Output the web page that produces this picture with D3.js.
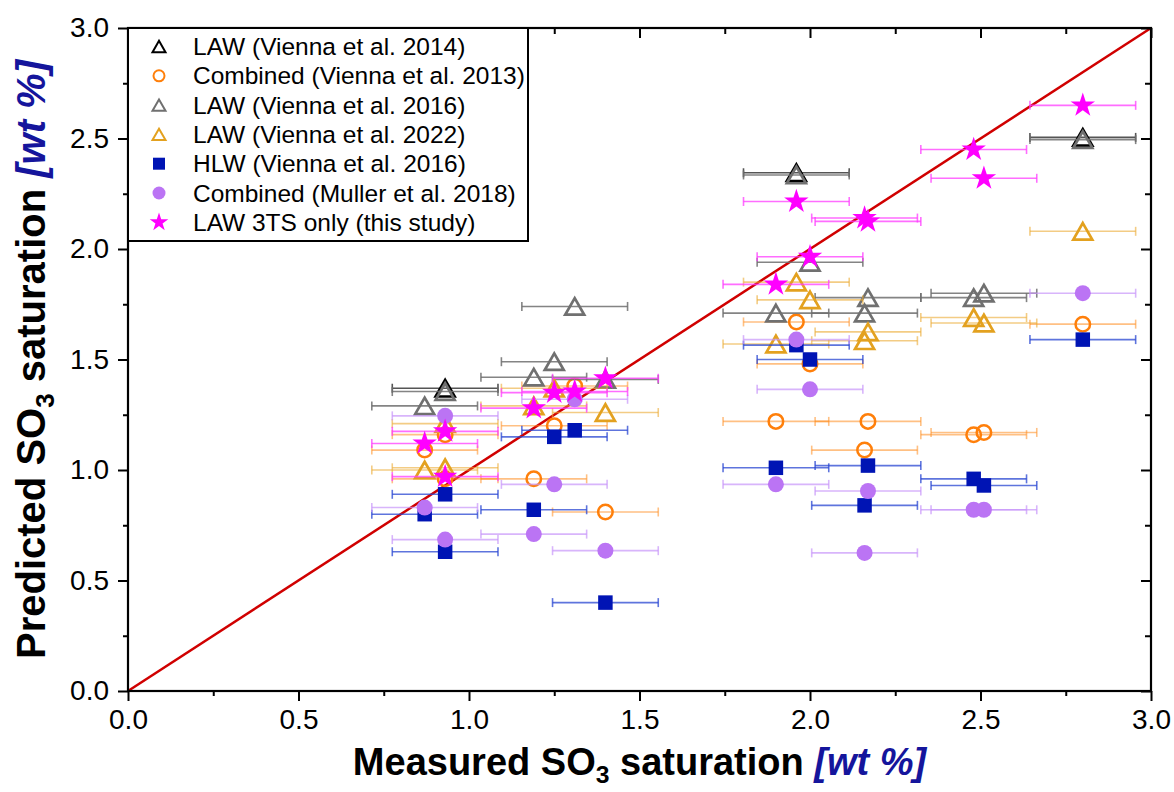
<!DOCTYPE html>
<html>
<head>
<meta charset="utf-8">
<script src="https://cdn.jsdelivr.net/npm/d3@7"></script>
<style>
  body { margin: 0; background: #fff; }
  text { font-family: "Liberation Sans", Arial, sans-serif; }
</style>
</head>
<body>
<svg id="chart"></svg>
<script>
// measured (x) and predicted (y) SO3 saturation, wt %
const lawV2014X = [0.93, 1.96, 2.80];
const lawV2014Y = [1.37, 2.345, 2.505];

const combV2013X = [0.87, 0.93, 0.93, 1.19, 1.25, 1.31, 1.40, 1.90, 1.96, 2.00, 2.16, 2.17, 2.48, 2.51, 2.80];
const combV2013Y = [1.09, 1.16, 0.96, 0.96, 1.20, 1.38, 0.81, 1.22, 1.67, 1.48, 1.09, 1.22, 1.16, 1.17, 1.66];

const lawV2016X = [0.87, 0.93, 1.19, 1.25, 1.31, 1.40, 1.90, 1.96, 2.00, 2.16, 2.17, 2.48, 2.51, 2.80];
const lawV2016Y = [1.29, 1.355, 1.42, 1.49, 1.74, 1.41, 1.71, 2.335, 1.94, 1.71, 1.78, 1.78, 1.80, 2.495];

const lawV2022X = [0.87, 0.93, 0.93, 1.19, 1.25, 1.40, 1.90, 1.96, 2.00, 2.16, 2.17, 2.48, 2.51, 2.80];
const lawV2022Y = [1.00, 1.01, 1.21, 1.29, 1.37, 1.26, 1.57, 1.85, 1.77, 1.585, 1.625, 1.69, 1.665, 2.08];

const hlwV2016X = [0.87, 0.93, 0.93, 1.19, 1.25, 1.31, 1.40, 1.90, 1.96, 2.00, 2.16, 2.17, 2.48, 2.51, 2.80];
const hlwV2016Y = [0.80, 0.89, 0.63, 0.82, 1.15, 1.18, 0.40, 1.01, 1.565, 1.50, 0.84, 1.02, 0.96, 0.93, 1.59];

const combM2018X = [0.87, 0.93, 0.93, 1.19, 1.25, 1.31, 1.40, 1.90, 1.96, 2.00, 2.16, 2.17, 2.48, 2.51, 2.80];
const combM2018Y = [0.83, 1.245, 0.685, 0.71, 0.935, 1.32, 0.635, 0.935, 1.59, 1.365, 0.625, 0.905, 0.82, 0.82, 1.80];

const law3tsX = [0.87, 0.93, 0.93, 1.19, 1.25, 1.31, 1.40, 1.90, 1.96, 2.00, 2.16, 2.17, 2.48, 2.51, 2.80];
const law3tsY = [1.12, 1.175, 0.97, 1.28, 1.35, 1.355, 1.415, 1.84, 2.215, 1.965, 2.14, 2.125, 2.45, 2.32, 2.65];

const xErr = 0.155;

const seriesNames = [
    "LAW (Vienna et al. 2014)",
    "Combined (Vienna et al. 2013)",
    "LAW (Vienna et al. 2016)",
    "LAW (Vienna et al. 2022)",
    "HLW (Vienna et al. 2016)",
    "Combined (Muller et al. 2018)",
    "LAW 3TS only (this study)"
];
const majorTicks = [0, 0.5, 1.0, 1.5, 2.0, 2.5, 3.0];
const minorTicks = [0.25, 0.75, 1.25, 1.75, 2.25, 2.75];

const width = 1174, height = 792;
const margin = {top: 28, right: 23, bottom: 101, left: 128};

// marker styles per series
const styles = [
    {shape: "tri", stroke: "#000", fill: "none", bar: "#555"},
    {shape: "circle", stroke: "#ff7f0a", fill: "none", bar: "rgba(255,140,30,0.55)"},
    {shape: "tri", stroke: "#707070", fill: "none", bar: "rgba(110,110,110,0.85)"},
    {shape: "tri", stroke: "#e3a11f", fill: "none", bar: "rgba(235,170,50,0.6)"},
    {shape: "square", stroke: "none", fill: "#0014b4", bar: "rgba(40,70,210,0.75)"},
    {shape: "dot", stroke: "none", fill: "#bb74f4", bar: "rgba(200,150,250,0.7)"},
    {shape: "star", stroke: "none", fill: "#ff00ff", bar: "rgba(255,60,255,0.75)"}
];

const seriesX = [lawV2014X, combV2013X, lawV2016X, lawV2022X, hlwV2016X, combM2018X, law3tsX];
const seriesY = [lawV2014Y, combV2013Y, lawV2016Y, lawV2022Y, hlwV2016Y, combM2018Y, law3tsY];

const svg = d3.select("#chart")
    .attr("width", width)
    .attr("height", height);

const x = d3.scaleLinear().domain([0, 3]).range([margin.left, width - margin.right]);
const y = d3.scaleLinear().domain([0, 3]).range([height - margin.bottom, margin.top]);

// path for a marker centred at 0,0
function markerPath(shape, s) {
    if (shape === "tri") {
        const h = s * 0.87;
        return `M0,${-h / 2}L${s / 2},${h / 2}L${-s / 2},${h / 2}Z`;
    }
    if (shape === "square") return `M${-s / 2},${-s / 2}h${s}v${s}h${-s}Z`;
    if (shape === "star") return d3.symbol(d3.symbolStar, s * s * 0.42)();
    const r = s / 2;
    return `M${r},0A${r},${r} 0 1,1 ${-r},0A${r},${r} 0 1,1 ${r},0Z`;
}
const markerSize = {tri: 19, circle: 14.5, square: 14.5, dot: 16, star: 21};

// identity line
svg.append("line")
    .attr("x1", x(0)).attr("y1", y(0))
    .attr("x2", x(3)).attr("y2", y(3))
    .attr("stroke", "#d00000")
    .attr("stroke-width", 2.5);

seriesX.forEach((xs, si) => {
    const st = styles[si];
    const pts = xs.map((v, i) => ({x: v, y: seriesY[si][i]}));
    const g = svg.append("g");
    const bars = g.selectAll("g.bar").data(pts).enter().append("g")
        .attr("stroke", st.bar)
        .attr("stroke-width", 1.6);
    bars.append("line")
        .attr("x1", d => x(d.x - xErr)).attr("x2", d => x(d.x + xErr))
        .attr("y1", d => y(d.y)).attr("y2", d => y(d.y));
    for (let side of [-1, 1]) {
        bars.append("line")
            .attr("x1", d => x(d.x + side * xErr)).attr("x2", d => x(d.x + side * xErr))
            .attr("y1", d => y(d.y) - 4.5).attr("y2", d => y(d.y) + 4.5);
    }
    g.selectAll("path.mark").data(pts).enter().append("path")
        .attr("class", "mark")
        .attr("transform", d => `translate(${x(d.x)},${y(d.y)})`)
        .attr("d", markerPath(st.shape, markerSize[st.shape]))
        .attr("fill", st.fill === "none" ? "#fff" : st.fill)
        .attr("fill-opacity", st.fill === "none" ? 0 : 1)
        .attr("stroke", st.stroke)
        .attr("stroke-width", st.shape === "tri" ? 2.7 : 2.5);
});

// axes
const fmt = d3.format(".1f");
const axisStyle = g => {
    g.selectAll(".domain").remove();
    g.selectAll("line").attr("stroke", "#000").attr("stroke-width", 2);
    g.selectAll("text").attr("font-size", 28).attr("fill", "#000")
        .attr("font-family", "'Liberation Sans', Arial, sans-serif");
};
svg.append("g")
    .attr("transform", `translate(0,${y(0)})`)
    .call(d3.axisBottom(x).tickValues(majorTicks).tickFormat(fmt).tickSize(10).tickPadding(8))
    .call(axisStyle);
svg.append("g")
    .attr("transform", `translate(0,${y(0)})`)
    .call(d3.axisBottom(x).tickValues(minorTicks).tickFormat("").tickSize(5))
    .call(axisStyle);
svg.append("g")
    .attr("transform", `translate(${x(0)},0)`)
    .call(d3.axisLeft(y).tickValues(majorTicks).tickFormat(fmt).tickSize(10).tickPadding(9))
    .call(axisStyle);
svg.append("g")
    .attr("transform", `translate(${x(0)},0)`)
    .call(d3.axisLeft(y).tickValues(minorTicks).tickFormat("").tickSize(5))
    .call(axisStyle);
// inward ticks on top and right
svg.append("g")
    .attr("transform", `translate(0,${y(3)})`)
    .call(d3.axisBottom(x).tickValues(majorTicks).tickFormat("").tickSize(10))
    .call(axisStyle);
svg.append("g")
    .attr("transform", `translate(0,${y(3)})`)
    .call(d3.axisBottom(x).tickValues(minorTicks).tickFormat("").tickSize(6))
    .call(axisStyle);
svg.append("g")
    .attr("transform", `translate(${x(3)},0)`)
    .call(d3.axisLeft(y).tickValues(majorTicks).tickFormat("").tickSize(10))
    .call(axisStyle);
svg.append("g")
    .attr("transform", `translate(${x(3)},0)`)
    .call(d3.axisLeft(y).tickValues(minorTicks).tickFormat("").tickSize(6))
    .call(axisStyle);

// frame
svg.append("rect")
    .attr("x", x(0)).attr("y", y(3))
    .attr("width", x(3) - x(0)).attr("height", y(0) - y(3))
    .attr("fill", "none").attr("stroke", "#000").attr("stroke-width", 2.2);

// axis titles
function axisTitle(t, word, size) {
    t.attr("font-size", size).attr("font-weight", "bold").attr("fill", "#000").attr("text-anchor", "middle");
    t.append("tspan").text(word + " SO");
    t.append("tspan").text("3").attr("font-size", size * 0.65).attr("dy", size * 0.22);
    t.append("tspan").text(" saturation ").attr("dy", -size * 0.22);
    t.append("tspan").text("[wt %]").attr("font-style", "italic").attr("fill", "#15159c");
}
svg.append("text")
    .attr("x", (x(0) + x(3)) / 2).attr("y", 775)
    .call(axisTitle, "Measured", 38);
svg.append("text")
    .attr("transform", `translate(45,${(y(0) + y(3)) / 2}) rotate(-90)`)
    .call(axisTitle, "Predicted", 40);

// legend
const legend = svg.append("g");
legend.append("rect")
    .attr("x", x(0)).attr("y", y(3))
    .attr("width", 400).attr("height", 213)
    .attr("fill", "#fff").attr("stroke", "#000").attr("stroke-width", 2);
seriesNames.forEach((name, i) => {
    const ly = 46.5 + i * 29.3;
    const st = styles[i];
    const legSize = {tri: 13, circle: 11, square: 12, dot: 13, star: 16};
    legend.append("path")
        .attr("transform", `translate(159,${ly})`)
        .attr("d", markerPath(st.shape, legSize[st.shape]))
        .attr("fill", st.fill === "none" ? "none" : st.fill)
        .attr("stroke", st.stroke)
        .attr("stroke-width", 2);
    legend.append("text")
        .attr("x", 193).attr("y", ly + 8.5)
        .attr("font-size", 24.5)
        .text(name);
});
</script>
</body>
</html>
